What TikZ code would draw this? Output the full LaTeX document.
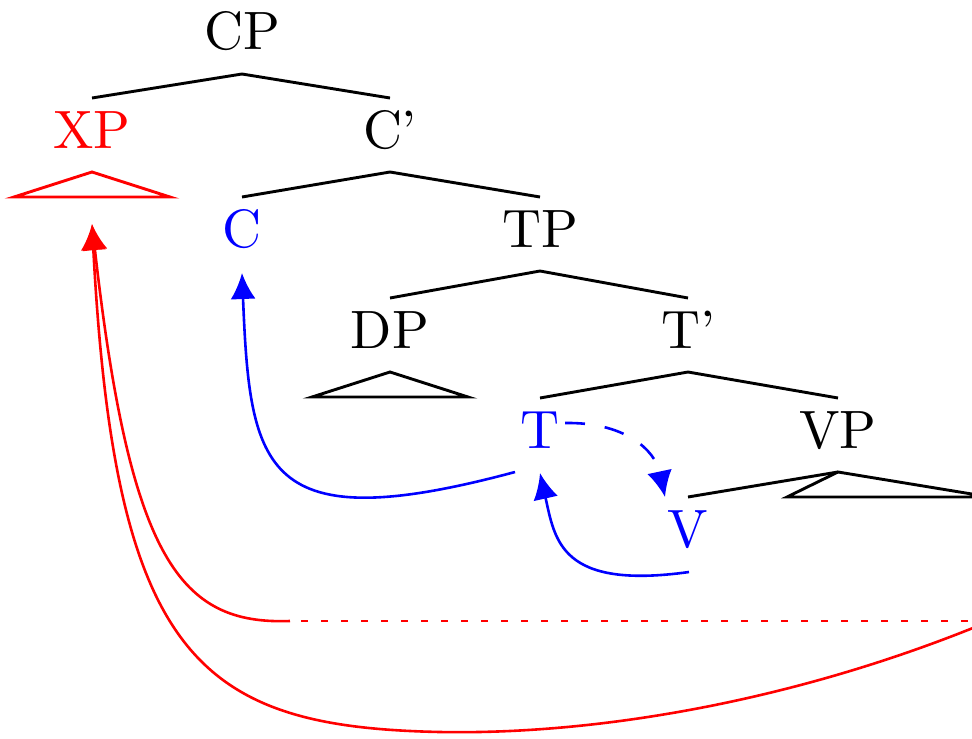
\documentclass[tikz,border=0pt]{standalone}
\usepackage{fontspec}
\newfontfamily\treefont{lmroman10-regular.otf}
\usetikzlibrary{arrows.meta,calc}
\begin{document}
\begin{tikzpicture}[x=0.5pt,y=-0.5pt,
  lbl/.style={font=\treefont\fontsize{27}{32}\selectfont, inner sep=0pt, anchor=base},
  br/.style={line width=1.45pt, line join=miter},
  arr/.style={line width=1.3pt, -{Latex[length=13pt,width=12.5pt]}},
  dotline/.style={line width=1.3pt, dash pattern=on 3.5pt off 6.5pt, dash phase=4.5pt}]
\useasboundingbox (0,0) rectangle (972,738);
% labels
\node[lbl] (CP) at (242,50) {CP};
\node[lbl,red] (XP) at (92,148) {XP};
\node[lbl] (Cbar) at (390,148) {C’};
\node[lbl,blue] (C) at (242,247) {C};
\node[lbl] (TP) at (540,247) {TP};
\node[lbl] (DP) at (390,348) {DP};
\node[lbl] (Tbar) at (688,348) {T’};
\node[lbl,blue] (T) at (540,448) {T};
\node[lbl] (VP) at (838,448) {VP};
\node[lbl,blue] (V) at (688,547) {V};
% branch points
\foreach \n in {CP,XP,Cbar,TP,DP,Tbar,VP}{\coordinate (\n-d) at ($(\n.base)+(0,24)$);}
\foreach \n in {XP,Cbar,C,TP,DP,Tbar,T,VP,V}{\coordinate (\n-u) at ($(\n.base)+(0,-50)$);}
% tree
\draw[br] (XP-u) -- (CP-d) -- (Cbar-u);
\draw[br] (C-u) -- (Cbar-d) -- (TP-u);
\draw[br] (DP-u) -- (TP-d) -- (Tbar-u);
\draw[br] (T-u) -- (Tbar-d) -- (VP-u);
\draw[br] (V-u) -- (VP-d);
% triangles
\draw[br,red] (XP-d) -- ($(XP-d)+(78,25)$) -- ($(XP-d)+(-78,25)$) -- cycle;
\draw[br] (DP-d) -- ($(DP-d)+(78,25)$) -- ($(DP-d)+(-78,25)$) -- cycle;
\draw[br] (VP-d) -- ($(VP-d)+(152,25)$) -- ($(VP-d)+(-51,25)$) -- cycle;
% arrow ends
\coordinate (xpTip) at (92,224);
\coordinate (cTip) at (242,273);
\coordinate (tTip) at (540,473);
\coordinate (vTip) at (665,497);
\coordinate (tL) at (515,472);
\coordinate (tR) at (565,423);
\coordinate (vL) at (689,572);
\coordinate (rR) at (990,621);
\coordinate (dotL) at (290,621);
\coordinate (rBot) at (440,732);
% blue movements
\draw[arr,blue] (tL) .. controls (262,540) and (250,470) .. (cTip);
\draw[arr,blue] (vL) .. controls (560,590) and (555,540) .. (tTip);
\draw[arr,blue,dash pattern=on 10pt off 10pt] (tR) .. controls (625,422) and (655,450) .. (vTip);
% red movements
\draw[red,dotline] (dotL) -- (rR);
\draw[arr,red] (dotL) .. controls (180,625) and (130,560) .. (xpTip);
\draw[arr,red] (rR) .. controls (800,700) and (600,735) .. (rBot) .. controls (200,727) and (115,660) .. (xpTip);
\end{tikzpicture}
\end{document}
